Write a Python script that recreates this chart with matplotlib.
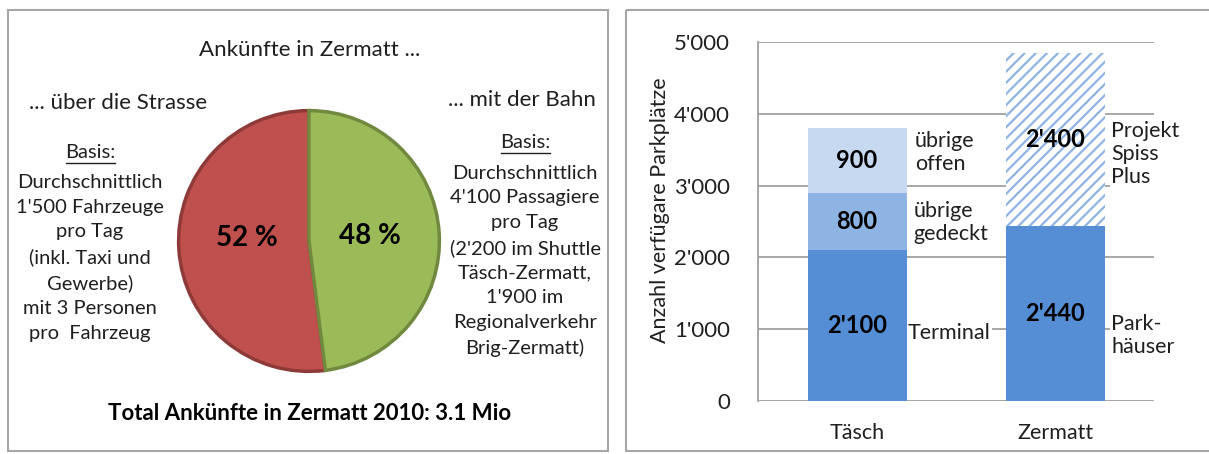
import matplotlib.pyplot as plt
from matplotlib.patches import Rectangle

plt.rcParams['font.family'] = ['Lato', 'DejaVu Sans']
plt.rcParams['hatch.linewidth'] = 1.6

# pie data
pie_labels = ['52 %', '48 %']
pie_values = [52, 48]

# bar data
orte = ['Täsch', 'Zermatt']
terminal = [2100, 2440]      # Terminal / Parkhäuser
gedeckt = [800, 0]
offen = [900, 0]
projekt = [0, 2400]          # Projekt Spiss Plus
yticks = [0, 1000, 2000, 3000, 4000, 5000]
ytick_labels = ["0", "1'000", "2'000", "3'000", "4'000", "5'000"]

def fmt(v):
    return f"{v:,}".replace(",", "'")

W, H = 1209, 454
fig = plt.figure(figsize=(W / 100, H / 100), dpi=100)
tc = '#1f1f1f'

# background layer in pixel coords
bg = fig.add_axes([0, 0, 1, 1])
bg.set_xlim(0, W)
bg.set_ylim(H, 0)
bg.axis('off')
bg.add_patch(Rectangle((8, 10), 600, 441, fill=False, ec='#A6A6A6', lw=1.5))
bg.add_patch(Rectangle((626, 10), 585, 441, fill=False, ec='#A6A6A6', lw=1.5))

bg.text(310, 50, 'Ankünfte in Zermatt ...', ha='center', va='center', fontsize=16, color=tc)
bg.text(118, 103, '... über die Strasse', ha='center', va='center', fontsize=16, color=tc)
bg.text(522, 100, '... mit der Bahn', ha='center', va='center', fontsize=16, color=tc)

links = ['Durchschnittlich', "1'500 Fahrzeuge", 'pro Tag', '(inkl. Taxi und',
         'Gewerbe)', 'mit 3 Personen', 'pro  Fahrzeug']
bg.text(90, 152, 'Basis:', ha='center', va='center', fontsize=14.5, color=tc)
bg.plot([66, 115], [163, 163], color=tc, lw=1)
bg.text(90, 258, '\n'.join(links), ha='center', va='center', fontsize=14.5,
        linespacing=1.55, color=tc)

rechts = ['Durchschnittlich', "4'100 Passagiere", 'pro Tag', "(2'200 im Shuttle",
          'Täsch-Zermatt,', "1'900 im", 'Regionalverkehr', 'Brig-Zermatt)']
bg.text(525, 142, 'Basis:', ha='center', va='center', fontsize=14.5, color=tc)
bg.plot([501, 550], [153, 153], color=tc, lw=1)
bg.text(525, 261, '\n'.join(rechts), ha='center', va='center', fontsize=14.5,
        linespacing=1.55, color=tc)

bg.text(310, 413, 'Total Ankünfte in Zermatt 2010: 3.1 Mio', ha='center', va='center',
        fontsize=16, fontweight='bold', color='black')

# pie
pl, pr, pt, pb = 176, 442, 108, 374
axp = fig.add_axes([pl / W, (H - pb) / H, (pr - pl) / W, (pb - pt) / H])
wedges, _ = axp.pie(pie_values, colors=['#C0504D', '#9BBB59'], startangle=90,
                    counterclock=True, wedgeprops=dict(linewidth=2.5))
wedges[0].set_edgecolor('#8E3A38')
wedges[1].set_edgecolor('#71893F')
axp.set_xlim(-1.02, 1.02)
axp.set_ylim(-1.02, 1.02)
axp.text(-0.48, 0.02, pie_labels[0], ha='center', va='center', fontsize=20, fontweight='bold')
axp.text(0.47, 0.04, pie_labels[1], ha='center', va='center', fontsize=20, fontweight='bold')

# stacked bars
bl, br, bt, bb = 758, 1154, 42, 401
ax = fig.add_axes([bl / W, (H - bb) / H, (br - bl) / W, (bb - bt) / H])
x = [0, 1]
w = 0.5
b1 = ax.bar(x, terminal, width=w, color='#558ED5', zorder=2)
b2 = ax.bar(x, gedeckt, width=w, bottom=terminal, color='#8EB4E3', zorder=2)
base3 = [t + g for t, g in zip(terminal, gedeckt)]
b3 = ax.bar(x, offen, width=w, bottom=base3, color='#C6D9F1', zorder=2)
base4 = [b + o for b, o in zip(base3, offen)]
b4 = ax.bar(x, projekt, width=w, bottom=base4, color='white', edgecolor='#8EB4E3',
            hatch='///', linewidth=0, zorder=2)

ax.set_xlim(-0.5, 1.5)
ax.set_ylim(0, 5000)
ax.set_yticks(yticks)
ax.set_yticklabels(ytick_labels, fontsize=16)
ax.set_xticks(x)
ax.set_xticklabels(orte, fontsize=15.5)
ax.tick_params(axis='both', length=0, colors=tc)
ax.tick_params(axis='y', pad=20)
ax.tick_params(axis='x', pad=16)
ax.grid(axis='y', color='#A0A0A0', lw=1.3, zorder=0)
for s in ['top', 'right', 'bottom']:
    ax.spines[s].set_visible(False)
ax.spines['left'].set_color('#A0A0A0')
ax.spines['left'].set_linewidth(1.3)
ax.set_ylabel('Anzahl verfügare Parkplätze', fontsize=15.5, color=tc)
ax.yaxis.set_label_coords(-0.222, 0.532)

vals = [(terminal, [0, 0]), (gedeckt, terminal), (offen, base3), (projekt, base4)]
for v, bot in vals:
    for i in range(2):
        if v[i] > 0:
            ax.text(x[i], bot[i] + v[i] / 2, fmt(v[i]), ha='center', va='center',
                    fontsize=17, fontweight='bold', zorder=3)

box = dict(facecolor='white', edgecolor='none', pad=1)
kw = dict(textcoords='offset points', ha='left', va='center', fontsize=15.5, color=tc,
          bbox=box, linespacing=1.2, zorder=3)
ax.annotate('Terminal', (x[0] + w / 2, 944), xytext=(1, 0), **kw)
ax.annotate('übrige\noffen', (x[0] + w / 2, 3458), xytext=(6, 0), **kw)
ax.annotate('übrige\ngedeckt', (x[0] + w / 2, 2486), xytext=(5, 0), **kw)
ax.annotate('Projekt\nSpiss\nPlus', (x[1] + w / 2, 3444), xytext=(5, 0), **kw)
ax.annotate('Park-\nhäuser', (x[1] + w / 2, 917), xytext=(5, 0), **kw)

fig.savefig('out.png', dpi=100)
